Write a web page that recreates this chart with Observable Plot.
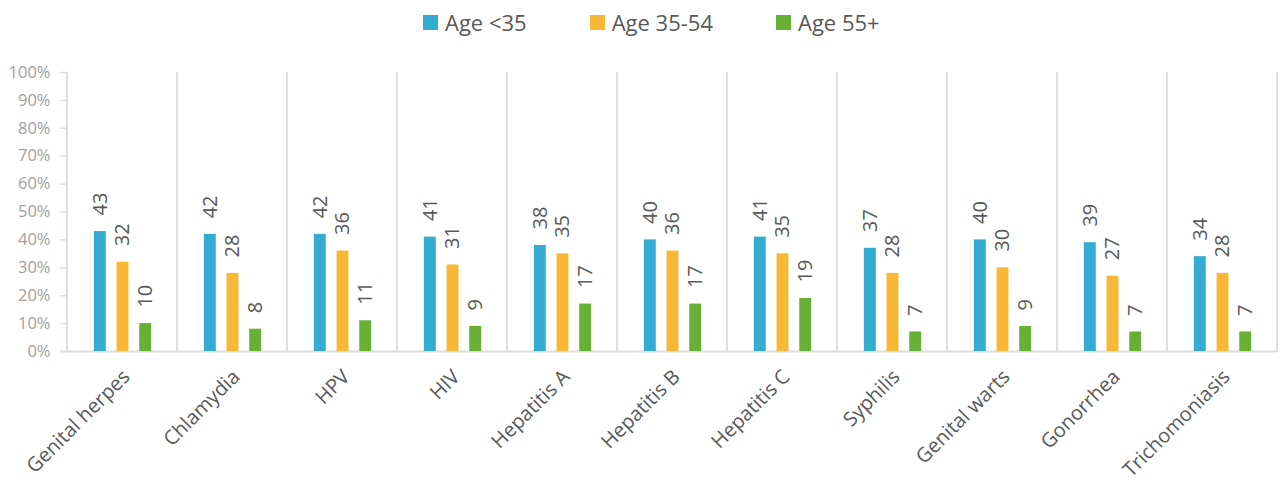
<!DOCTYPE html>
<html>
<head>
<meta charset="utf-8">
<script src="https://cdn.jsdelivr.net/npm/d3@7"></script>
<script src="https://cdn.jsdelivr.net/npm/@observablehq/plot@0.6"></script>
<style>
  html, body { margin: 0; padding: 0; background: #fff; }
  body { width: 1285px; height: 486px; overflow: hidden; font-family: "Open Sans", sans-serif; }
  #legend { height: 40px; box-sizing: border-box; padding-top: 4px; padding-left: 423px; display: flex; align-items: center; gap: 63px; }
  #legend .item { display: flex; align-items: center; gap: 7px; font-size: 22px; line-height: 23px; color: #595959; height: 23px; }
  #legend .sw { width: 15px; height: 15px; display: inline-block; }
  #chart svg { display: block; }
</style>
</head>
<body>
<div id="legend"></div>
<div id="chart"></div>
<script>
const categories = ["Genital herpes", "Chlamydia", "HPV", "HIV", "Hepatitis A", "Hepatitis B", "Hepatitis C", "Syphilis", "Genital warts", "Gonorrhea", "Trichomoniasis"];
const seriesNames = ["Age <35", "Age 35-54", "Age 55+"];
const under35 = [43, 42, 42, 41, 38, 40, 41, 37, 40, 39, 34];
const age35to54 = [32, 28, 36, 31, 35, 36, 35, 28, 30, 27, 28];
const age55plus = [10, 8, 11, 9, 17, 17, 19, 7, 9, 7, 7];
const yTicks = [0, 10, 20, 30, 40, 50, 60, 70, 80, 90, 100];
const colors = ["#34abd0", "#f8b735", "#67b035"];

const seriesValues = [under35, age35to54, age55plus];
const rows = seriesValues.map(vals => categories.map((c, i) => ({category: c, value: vals[i]})));

// legend
const legend = document.getElementById("legend");
seriesNames.forEach((name, k) => {
  const item = document.createElement("div");
  item.className = "item";
  const sw = document.createElement("span");
  sw.className = "sw";
  sw.style.background = colors[k];
  const t = document.createElement("span");
  t.textContent = name;
  item.appendChild(sw);
  item.appendChild(t);
  legend.appendChild(item);
});

const W = 1285, H = 446, ML = 66, MR = 8, MT = 32, MB = 135;
const bw = (W - ML - MR) / categories.length;
const step = 22.7, barW = 12, shift = 0.5;

const marks = [];
// vertical separators (left edge of each category band) and right border
marks.push(Plot.barY(categories, {x: d => d, y: () => 100, fill: "#dedede", insetLeft: -1, insetRight: bw - 1}));
marks.push(Plot.barY(categories.slice(-1), {x: d => d, y: () => 100, fill: "#dedede", insetLeft: bw - 1, insetRight: -1}));
// bottom axis line
marks.push(Plot.ruleY([0], {stroke: "#dedede", strokeWidth: 2, insetLeft: -6, insetRight: -1}));

seriesValues.forEach((vals, k) => {
  const off = bw / 2 + shift + (k - 1) * step;
  const il = off - barW / 2;
  marks.push(Plot.barY(rows[k], {x: "category", y: "value", fill: colors[k], insetLeft: il, insetRight: bw - il - barW}));
  marks.push(Plot.text(rows[k], {x: "category", y: "value", text: d => String(d.value), rotate: -90, textAnchor: "start", lineAnchor: "middle", dx: shift + (k - 1) * step, dy: -16, fontSize: 20, fill: "#595959"}));
});

// x labels
marks.push(Plot.text(categories, {x: d => d, frameAnchor: "bottom", rotate: -45, textAnchor: "end", lineAnchor: "middle", dx: 4, dy: 22, fontSize: 20, fill: "#595959"}));
// y axis
marks.push(Plot.axisY({ticks: yTicks, tickFormat: d => d + "%", tickSize: 6, tickPadding: 10, stroke: "#dedede", strokeWidth: 1.5, fill: "#a0a0a0", fontSize: 16.5, label: null}));

const chart = Plot.plot({
  width: W, height: H,
  marginLeft: ML, marginRight: MR, marginTop: MT, marginBottom: MB,
  style: {fontFamily: "'Open Sans', sans-serif", background: "#fff"},
  x: {type: "band", domain: categories, padding: 0, axis: null},
  y: {domain: [0, 100], axis: null},
  marks
});
document.getElementById("chart").appendChild(chart);
</script>
</body>
</html>
